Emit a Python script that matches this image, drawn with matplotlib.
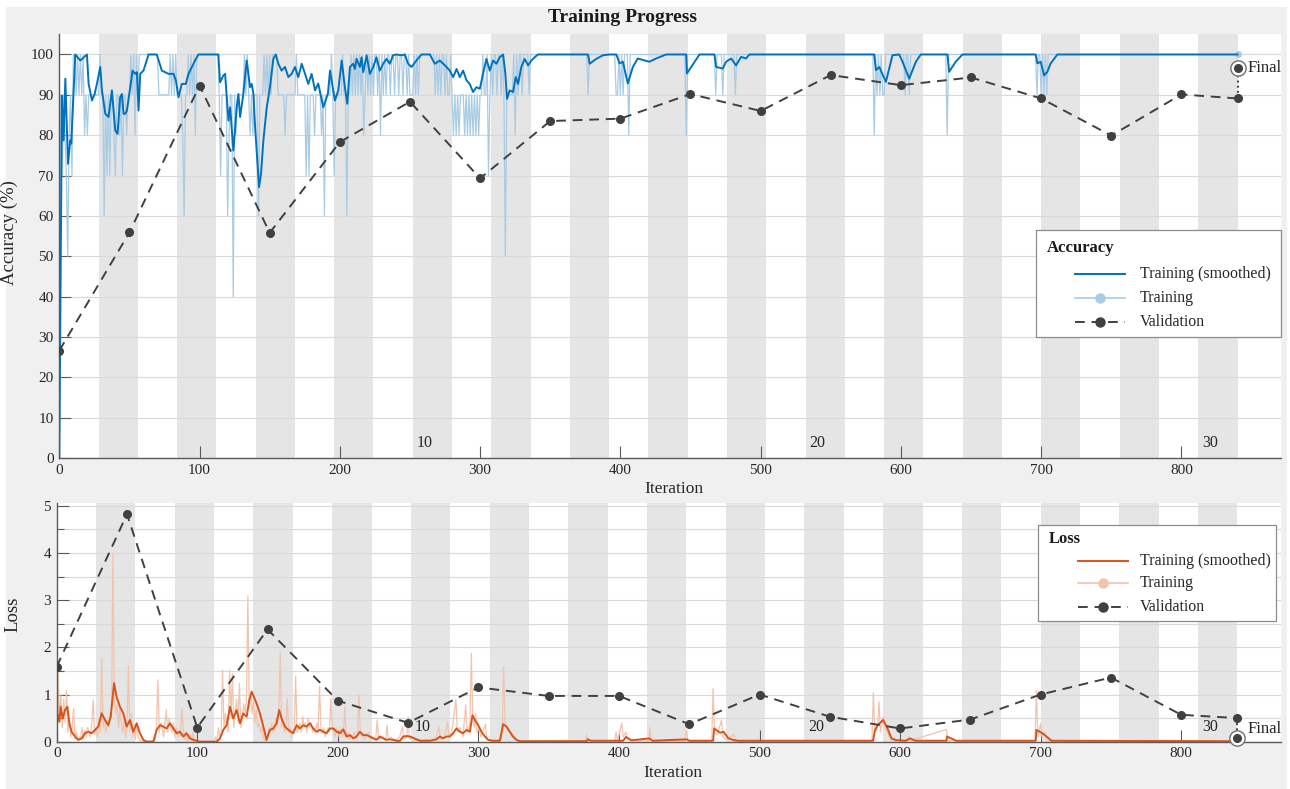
import numpy as np
import matplotlib
matplotlib.use("Agg")
import matplotlib.pyplot as plt
from matplotlib.lines import Line2D
from matplotlib.patches import Rectangle
from matplotlib.ticker import MultipleLocator

plt.rcParams['font.family'] = ['Liberation Serif', 'DejaVu Serif']

# ---------------- data ----------------
iters_per_epoch = 28
n_epochs = 30
n_iter = 840
epoch_labels = [10, 20, 30]
x_ticks = [0, 100, 200, 300, 400, 500, 600, 700, 800]

val_iters = [0, 50, 100, 150, 200, 250, 300, 350, 400, 450, 500, 550, 600, 650, 700, 750, 800, 840]
val_acc = [26.6, 55.9, 92.3, 55.8, 78.3, 88.3, 69.3, 83.5, 84.1, 90.2, 86.0, 94.9, 92.4, 94.3, 89.1, 79.9, 90.1, 89.1]
val_loss = [1.59, 4.82, 0.30, 2.38, 0.87, 0.40, 1.15, 0.97, 0.97, 0.37, 1.00, 0.53, 0.28, 0.47, 1.00, 1.36, 0.57, 0.50]
final_acc = 96.6
final_loss = 0.07

# raw training accuracy: 100 everywhere except these iterations
acc_raw_90 = [1, 3, 8, 12, 14, 16, 19, 21, 22, 23, 24, 25, 26, 27, 28, 30, 31, 33, 35, 37, 38, 41, 42,
              44, 46, 47, 49, 50, 52, 56, 71, 72, 73, 74, 75, 76, 77, 78, 80, 82, 84, 85, 86, 87, 90,
              91, 93, 95, 114, 116, 117, 118, 119, 122, 123, 125, 127, 128, 129, 130, 131, 133, 135,
              137, 139, 140, 141, 143, 144, 145, 147, 149, 151, 156, 157, 158, 159, 160, 162, 163,
              164, 165, 166, 167, 168, 170, 171, 172, 173, 174, 175, 177, 179, 180, 181, 183, 184,
              185, 186, 188, 190, 191, 192, 193, 195, 197, 198, 199, 200, 201, 203, 204, 206, 207,
              209, 211, 213, 215, 218, 220, 222, 224, 227, 231, 233, 236, 239, 242, 245, 248, 250,
              251, 252, 254, 256, 268, 270, 272, 275, 277, 278, 280, 282, 284, 286, 287, 288, 290,
              292, 294, 296, 298, 300, 301, 303, 304, 307, 309, 312, 315, 317, 319, 320, 321, 322,
              323, 327, 330, 335, 377, 397, 398, 400, 402, 468, 473, 482, 583, 585, 587, 588, 603,
              606, 697, 700, 702, 704]
acc_raw_80 = [4, 7, 18, 20, 39, 43, 48, 54, 88, 97, 121, 126, 136, 138, 161, 182, 187, 217, 229, 281,
              283, 285, 289, 291, 293, 295, 297, 299, 325, 406, 447, 581, 633]
acc_raw_70 = [2, 5, 9, 34, 36, 40, 45, 115, 176, 178, 196, 306]
acc_raw_60 = [32, 89, 120, 142, 189, 205]
acc_raw_50 = [6, 318]
acc_raw_40 = [124]
acc_raw_0 = [0]

# smoothed training accuracy (vertices)
acc_sm_it = [0, 1.9, 3.1, 4.3, 6.2, 7.8, 8.5, 11.4, 15, 19.7, 20.9, 23.3, 25.2, 26.8, 29.2, 30.4, 32.8,
             35.1, 37.5, 39.9, 41.5, 43.4, 44.6, 45.8, 47, 48.2, 50.6, 52.2, 54.1, 55.3, 56.5, 57.7, 60,
             61.2, 63.6, 69.5, 73.1, 77.8, 81.4, 83.1, 85, 87.3, 90.2, 92.1, 94.5, 96.8, 99.2, 113.4,
             114.6, 117, 118.2, 120.6, 121.8, 124.1, 126.5, 127.7, 128.9, 131.2, 133.6, 136, 137.2,
             138.4, 139.6, 140.7, 142.4, 143.8, 145.5, 147.9, 150.2, 152.6, 154.3, 156.2, 158.5, 160.9,
             163.3, 165.7, 168, 170.4, 172.8, 175.2, 177.5, 179.9, 182.3, 184.6, 188.2, 191.5, 193,
             196.5, 198.9, 201.3, 203.6, 205.3, 207.2, 209.5, 210.7, 211.9, 214.3, 215.5, 216.7, 219.1,
             221.4, 223.8, 226.1, 228.5, 230.9, 233.3, 235.6, 238, 240.4, 244, 246.3, 248.7, 251.1,
             254.6, 258.2, 264.2, 267.7, 271.3, 274.9, 278.4, 280.8, 283.2, 285.5, 287.9, 290.3, 292.6,
             295, 297.4, 299.8, 302.1, 304.5, 306.9, 309.3, 311.6, 314, 316.4, 318, 319.2, 321.1, 323.5,
             325.4, 327.1, 329.4, 331.8, 334.2, 336.6, 338.9, 341.3, 376.9, 378.1, 382.8, 387.6, 392.3,
             397.1, 399.4, 401.8, 405.3, 408.9, 412.4, 420.7, 425.5, 432.6, 446.9, 447.5, 456.4, 467.1,
             468.3, 473, 475.4, 479, 482.5, 486.1, 489.6, 492, 581, 582.2, 584.6, 589.3, 594, 598.8,
             601.2, 605.9, 610.7, 614.2, 633.2, 634.4, 639.1, 643.9, 696.1, 697.3, 699.7, 702.1, 704.4,
             706.8, 711.6, 840]
acc_sm_val = [0, 89.8, 78.7, 94, 72.9, 78.7, 77.9, 100, 98.5, 100, 92.7, 88.6, 90.2, 92.7, 96.9, 91.1, 85.3,
              84.5, 91.1, 81.2, 80.3, 89.4, 90.2, 85.3, 85.3, 86.1, 91.9, 96, 95.2, 95.6, 86.1, 95.2, 96,
              97.3, 100, 100, 96, 95.2, 95.2, 93.6, 89.4, 92.7, 92.7, 95.2, 96.9, 98.5, 100, 100,
              93.1, 94.8, 95.2, 83.6, 86.9, 76.2, 86.9, 90.2, 84.5, 90.2, 98.5, 91.9, 92.7,
              90.2, 82, 76.2, 67.1, 70.4, 78.7, 86.9, 91.9, 98.9, 100, 97.7, 96, 96.9,
              94.4, 95.2, 96.9, 94.4, 97.7, 95.2, 92.7, 95.2, 91.1, 92.8, 86.9, 90.3, 96,
              88.6, 91.1, 98.5, 91.9, 87.8, 96.9, 97.7, 96.4, 98.9, 96.9, 99.3, 95.6, 99.8,
              95.2, 96.9, 99.3, 96, 97.7, 98.9, 97.7, 99.8, 100, 99.8, 100, 97.7, 96.9,
              98.5, 100, 100, 97.7, 98.5, 97.3, 96, 94.4, 96.4, 94.4, 96, 93.6, 92.7,
              90.7, 91.9, 91.5, 95.2, 98.9, 96, 98.5, 97.7, 99.3, 100, 95.2, 89, 91.1, 90.7,
              94.4, 92.7, 96.9, 98.9, 97.3, 98.5, 99.3, 100, 100, 97.7, 98.9, 99.8, 100,
              100, 97.8, 98.2, 92.8, 96.9, 99, 98.2, 99, 100, 100, 95.3, 100, 100,
              96.9, 96.5, 98.2, 99, 97.3, 99.4, 99, 100, 100, 96.1, 96.9, 93.2, 99.8, 100,
              98.2, 94, 98.2, 100, 100, 95.7, 98.2, 100, 100, 97.8, 98.2, 94.8, 95.7,
              97.8, 100, 100]

# raw training loss (vertices)
loss_raw_it = [0, 1, 2, 3, 4, 5, 6, 7, 8, 9, 10, 11, 12, 13, 14, 15, 17, 18, 19, 20, 21, 22, 24, 25, 26,
               27, 28, 29, 30, 31, 32, 33, 34, 35, 36, 37, 38, 39, 40, 41, 42, 43, 44, 45, 46, 47, 48,
               49, 50, 51, 52, 53, 54, 55, 56, 57, 58, 59, 60, 70, 71, 72, 73, 74, 75, 76, 77, 78, 79,
               80, 81, 82, 83, 84, 85, 86, 87, 88, 89, 90, 91, 92, 93, 95, 96, 97, 98, 112, 113, 114,
               115, 116, 117, 118, 119, 120, 121, 122, 123, 124, 125, 126, 127, 128, 129, 130, 131,
               132, 133, 134, 135, 136, 137, 138, 139, 140, 141, 142, 143, 144, 145, 146, 147, 148,
               149, 150, 151, 152, 153, 154, 155, 156, 157, 158, 159, 160, 161, 162, 163, 164, 165,
               166, 167, 168, 169, 170, 171, 172, 173, 174, 175, 176, 177, 178, 179, 180, 181, 182,
               183, 184, 185, 186, 187, 188, 189, 190, 191, 192, 193, 194, 195, 196, 197, 198, 199,
               200, 201, 202, 203, 204, 205, 206, 207, 208, 209, 210, 212, 213, 214, 215, 216, 217,
               218, 219, 220, 222, 223, 225, 227, 228, 229, 230, 232, 234, 235, 236, 238, 240, 242,
               244, 246, 247, 249, 250, 251, 253, 255, 258, 260, 263, 266, 270, 272, 273, 276, 278,
               279, 281, 284, 285, 287, 289, 291, 292, 294, 295, 296, 297, 298, 299, 300, 302, 303,
               305, 306, 308, 312, 316, 317, 318, 319, 320, 322, 324, 326, 330, 376, 377, 378, 397,
               398, 399, 402, 403, 405, 406, 408, 421, 422, 423, 447, 448, 449, 466, 467, 468, 470,
               473, 474, 476, 482, 483, 580, 581, 582, 584, 585, 586, 588, 589, 591, 593, 595, 605,
               606, 607, 633, 634, 696, 697, 698, 700, 701, 703, 704, 706, 840]
loss_raw_val = [1.6, 1.45, 0.5, 1.0, 0.3, 0.9, 0.4, 1.09, 0.2, 0.5, 0.1, 0.3, 0.7, 0.05, 0.2, 0.02, 0.1,
                0.3, 0.05, 0.25, 0.1, 0.3, 0.1, 0.4, 0.88, 0.15, 0.3, 0.1, 0.5, 0.2, 1.77, 0.3, 0.5,
                0.2, 0.4, 0.3, 0.6, 0.5, 3.99, 0.9, 0.6, 0.8, 0.3, 0.74, 0.4, 0.2, 0.5, 0.1, 0.3, 1.6,
                0.2, 0.6, 0.1, 0.3, 0.05, 0.4, 0.1, 0.05, 0.01, 0.02, 0.3, 1.31, 0.2, 0.4, 0.3, 0.1,
                0.4, 0.67, 0.2, 0.5, 0.3, 0.2, 0.4, 0.1, 0.3, 0.1, 0.25, 0.1, 0.7, 0.3, 0.05, 0.2,
                0.02, 0.15, 0.02, 0.2, 0.01, 0.01, 0.1, 0.02, 0.3, 0.1, 0.2, 1.52, 0.3, 0.6, 0.4, 0.2,
                1.52, 0.5, 1.45, 0.3, 0.6, 0.9, 0.4, 1.24, 0.3, 0.5, 0.8, 0.6, 0.9, 3.09, 0.7, 1.0,
                0.6, 0.9, 0.4, 0.67, 0.3, 0.4, 0.2, 0.3, 0.1, 0.03, 0.01, 0.1, 0.3, 0.2, 0.4, 0.2,
                0.3, 0.5, 0.3, 0.6, 1.89, 0.3, 0.5, 0.2, 0.3, 0.92, 0.2, 0.3, 0.1, 0.2, 0.3, 1.39,
                0.2, 0.3, 0.4, 0.2, 0.53, 0.3, 0.4, 0.2, 0.5, 0.3, 0.4, 0.2, 0.3, 0.2, 0.4, 0.2,
                1.17, 0.3, 0.2, 0.3, 0.1, 0.2, 0.3, 0.2, 0.92, 0.3, 0.2, 0.1, 0.3, 0.2, 0.1, 0.3,
                0.1, 0.2, 0.74, 0.1, 0.2, 0.05, 0.15, 0.1, 0.2, 0.05, 0.1, 0.99, 0.2, 0.1, 0.15, 0.05,
                0.1, 0.2, 0.05, 0.1, 0.05, 0.46, 0.1, 0.05, 0.1, 0.02, 0.35, 0.05, 0.1, 0.02, 0.05,
                0.1, 0.32, 0.05, 0.1, 0.53, 0.05, 0.1, 0.02, 0.05, 0.02, 0.05, 0.02, 0.1, 0.32, 0.05,
                0.1, 0.42, 0.1, 0.2, 0.9, 0.2, 0.3, 0.1, 0.78, 0.2, 0.4, 1.87, 0.5, 0.3, 0.6, 0.2,
                0.3, 0.1, 0.2, 0.37, 0.05, 0.02, 0.01, 0.05, 0.2, 1.59, 0.4, 0.3, 0.2, 0.1, 0.05,
                0.01, 0.02, 0.14, 0.02, 0.02, 0.21, 0.02, 0.39, 0.1, 0.2, 0.05, 0.02, 0.02, 0.3, 0.02,
                0.02, 0.25, 0.02, 0.02, 1.13, 0.2, 0.15, 0.46, 0.1, 0.05, 0.15, 0.02, 0.02, 1.04, 0.2,
                0.3, 0.85, 0.2, 0.53, 0.3, 0.2, 0.05, 0.02, 0.02, 0.1, 0.02, 0.26, 0.02, 0.02, 1.09,
                0.1, 0.39, 0.1, 0.2, 0.05, 0.02, 0.01]

# smoothed training loss (vertices)
loss_sm_it = [0, 0.5, 1.9, 2.8, 4.2, 5.9, 7.6, 9, 10.6, 13, 15.4, 17.8, 20.1, 22.5, 24.9, 27.2, 29.6, 32,
              34.4, 36.7, 38.4, 40.8, 42.6, 45, 47.4, 49.8, 52.1, 54.5, 56.9, 59.2, 61.6, 64, 68.7,
              71.1, 73.5, 75.8, 78.2, 80.6, 83, 85.3, 87.7, 90.1, 92.4, 94.8, 97.2, 101.9, 113.8,
              116.2, 118.5, 120.9, 123.3, 125.6, 128, 130.4, 132.7, 135.1, 137, 138.7, 140.3, 142.2,
              144.6, 147, 149.3, 151.7, 154.1, 156.4, 158.3, 160, 162.4, 164.8, 168.3, 170.7, 173,
              175.4, 177.8, 180.2, 182.5, 184.9, 187.3, 189.6, 192, 194.4, 196.8, 199.1, 201.5, 203.9,
              206.2, 208.6, 211, 213.3, 215.7, 218.1, 220.5, 222.8, 225.2, 227.6, 229.9, 232.3, 234.7,
              237, 239.4, 241.8, 244.2, 246.5, 248.9, 251.3, 256, 258.4, 265.5, 270.2, 272.6, 275,
              277.3, 279.7, 282.1, 284.4, 286.8, 289.2, 291.6, 293.9, 295.8, 297.5, 299.9, 302.2,
              304.6, 307, 310.5, 315.3, 317.6, 320, 322.4, 324.7, 327.1, 329.5, 377, 377.9, 380, 403,
              405, 409, 421.5, 424, 448, 450, 467, 467.7, 472, 474.4, 477.9, 481.5, 485, 580.8, 582,
              584, 587.9, 590.5, 593.9, 597, 604, 607, 611, 633, 633.4, 640, 696.5, 697, 700.6, 703,
              707.7, 840]
loss_sm_val = [1.52, 0.6, 0.42, 0.74, 0.49, 0.67, 0.74, 0.39, 0.21, 0.11, 0.04, 0.07, 0.18, 0.21, 0.18,
               0.25, 0.32, 0.6, 0.46, 0.35, 0.53, 1.24, 0.95, 0.74, 0.6, 0.32, 0.46, 0.21, 0.39, 0.18,
               0.04, 0.0, 0.0, 0.25, 0.35, 0.32, 0.28, 0.39, 0.28, 0.18, 0.21, 0.11, 0.18, 0.07, 0.04,
               0.0, 0.0, 0.07, 0.25, 0.35, 0.74, 0.49, 0.67, 0.39, 0.6, 0.53, 0.88, 1.06, 0.95, 0.81,
               0.6, 0.32, 0.04, 0.25, 0.28, 0.39, 0.67, 0.49, 0.32, 0.25, 0.18, 0.35, 0.28, 0.35,
               0.32, 0.39, 0.28, 0.21, 0.25, 0.21, 0.18, 0.28, 0.28, 0.21, 0.18, 0.26, 0.11, 0.14,
               0.07, 0.11, 0.21, 0.14, 0.14, 0.11, 0.07, 0.04, 0.11, 0.07, 0.04, 0.05, 0.04, 0.02,
               0.02, 0.11, 0.12, 0.11, 0.05, 0.02, 0.02, 0.05, 0.11, 0.07, 0.11, 0.11, 0.18, 0.28,
               0.21, 0.18, 0.25, 0.21, 0.56, 0.46, 0.35, 0.21, 0.11, 0.04, 0.02, 0.02, 0.37, 0.32,
               0.21, 0.11, 0.04, 0.01, 0.01, 0.05, 0.02, 0.02, 0.1, 0.03, 0.07, 0.02, 0.05, 0.02,
               0.02, 0.28, 0.19, 0.21, 0.07, 0.035, 0.02, 0.02, 0.23, 0.35, 0.46, 0.32, 0.07, 0.035,
               0.02, 0.07, 0.02, 0.02, 0.11, 0.02, 0.02, 0.25, 0.19, 0.14, 0.02, 0.01]

# ---------------- style ----------------
W, H = 1290, 789
C_ACC = '#0072BD'
C_ACC_RAW = '#a9cbe4'
C_LOSS = '#D95319'
C_LOSS_RAW = '#f1c4ae'
C_VAL = '#404040'
C_BAND = '#e5e5e5'
C_GRID = '#d9d9d9'
C_AX = '#5a5a5a'

fig = plt.figure(figsize=(W / 100, H / 100), dpi=100, facecolor='white')
fig.add_artist(Rectangle((6 / W, 0), (1287 - 6) / W, 1 - 7 / H, transform=fig.transFigure,
                         facecolor='#f0f0f0', edgecolor='none', zorder=-10))

ax1 = fig.add_axes([59.3 / W, 1 - 458 / H, (1281 - 59.3) / W, (458 - 34.3) / H])
ax2 = fig.add_axes([56.7 / W, 1 - 741.7 / H, (1281 - 56.7) / W, (741.7 - 502.7) / H])

acc_raw = np.full(n_iter + 1, 100.0)
for v, its in [(90, acc_raw_90), (80, acc_raw_80), (70, acc_raw_70), (60, acc_raw_60),
               (50, acc_raw_50), (40, acc_raw_40), (0, acc_raw_0)]:
    acc_raw[its] = v
it_all = np.arange(n_iter + 1)


def style_axes(ax):
    ax.set_facecolor('white')
    ax.set_xlim(0, 871)
    for e in range(2, n_epochs + 1, 2):
        ax.axvspan((e - 1) * iters_per_epoch, e * iters_per_epoch, color=C_BAND, lw=0, zorder=0.2)
    for s in ['top', 'right']:
        ax.spines[s].set_visible(False)
    for s in ['left', 'bottom']:
        ax.spines[s].set_color(C_AX)
        ax.spines[s].set_linewidth(1.0)
        ax.spines[s].set_zorder(3)
    ax.set_xticks(x_ticks)
    ax.tick_params(axis='both', which='both', direction='in', color=C_AX, width=0.8,
                   labelsize=11, labelcolor='#262626', pad=4)
    ax.tick_params(axis='both', which='major', length=8.5)
    ax.tick_params(axis='y', which='minor', length=5)
    ax.set_axisbelow(True)
    for e in epoch_labels:
        ax.annotate(str(e), xy=((e - 1) * iters_per_epoch, 0), xycoords=('data', 'axes fraction'),
                    xytext=(3, 10.5), textcoords='offset points', ha='left', va='center',
                    fontsize=11.5, color='#262626', zorder=4)


style_axes(ax1)
style_axes(ax2)

# accuracy
ax1.set_ylim(0, 105)
ax1.set_yticks(np.arange(0, 101, 10))
ax1.yaxis.grid(True, color=C_GRID, lw=0.8)
ax1.plot(it_all, acc_raw, color=C_ACC_RAW, lw=0.9, zorder=2)
ax1.plot([it_all[-1]], [acc_raw[-1]], 'o', color=C_ACC_RAW, ms=4, zorder=2)
ax1.plot(acc_sm_it, acc_sm_val, color=C_ACC, lw=1.4, zorder=3)
ax1.plot(val_iters, val_acc, color=C_VAL, lw=1.4, ls=(0, (5, 3.5)), marker='o', ms=5.5, zorder=4)
ax1.plot([val_iters[-1]] * 2, [val_acc[-1], final_acc], ':', color=C_VAL, lw=1.4, zorder=4)
ax1.plot(val_iters[-1], final_acc, 'o', ms=11, mfc='white', mec='#707070', mew=1.0, zorder=5)
ax1.plot(val_iters[-1], final_acc, 'o', ms=5.5, color=C_VAL, zorder=6)
ax1.annotate('Final', xy=(val_iters[-1], final_acc), xytext=(7, 0), textcoords='offset points',
             ha='left', va='center', fontsize=12, color='#262626')
ax1.set_ylabel('Accuracy (%)', fontsize=13.5, color='#262626')
ax1.yaxis.set_label_coords((18 - 59.3) / (1281 - 59.3), (458 - 233) / 423.7)
ax1.set_xlabel('Iteration', fontsize=12.5, color='#262626')
ax1.xaxis.set_label_coords(0.5 + 4 / 1221.7, (458 - 489) / 423.7)
ax1.xaxis.label.set_va('center')

# loss
ax2.set_ylim(0, 5.064)
ax2.yaxis.set_major_locator(MultipleLocator(1))
ax2.yaxis.set_minor_locator(MultipleLocator(0.5))
ax2.yaxis.grid(True, which='both', color=C_GRID, lw=0.8)
ax2.plot(loss_raw_it, loss_raw_val, color=C_LOSS_RAW, lw=0.9, zorder=2)
ax2.plot(loss_sm_it, loss_sm_val, color=C_LOSS, lw=1.4, zorder=3)
ax2.plot(val_iters, val_loss, color=C_VAL, lw=1.4, ls=(0, (5, 3.5)), marker='o', ms=5.5, zorder=4)
ax2.plot([val_iters[-1]] * 2, [val_loss[-1], final_loss], ':', color=C_VAL, lw=1.4, zorder=4)
ax2.plot(val_iters[-1], final_loss, 'o', ms=11, mfc='white', mec='#707070', mew=1.0, zorder=5,
         clip_on=False)
ax2.plot(val_iters[-1], final_loss, 'o', ms=5.5, color=C_VAL, zorder=6, clip_on=False)
ax2.annotate('Final', xy=(val_iters[-1], final_loss), xytext=(7, 7), textcoords='offset points',
             ha='left', va='center', fontsize=12, color='#262626')
ax2.set_ylabel('Loss', fontsize=13.5, color='#262626')
ax2.yaxis.set_label_coords((21 - 56.7) / (1281 - 56.7), (741.7 - 614) / 239)
ax2.set_xlabel('Iteration', fontsize=12.5, color='#262626')
ax2.xaxis.set_label_coords(0.5 + 4 / 1224.3, (741.7 - 773) / 239)
ax2.xaxis.label.set_va('center')

fig.text(623 / W, 1 - 18 / H, 'Training Progress', ha='center', va='center', fontsize=14,
         fontweight='bold', color='#1a1a1a')


# ---------------- legends (drawn in figure pixel coordinates) ----------------
def fxy(x, y):
    return (x / W, 1 - y / H)


def legend_box(x0, y0, x1, y1, title, tx, ty, rows, hx0, hx1, lx):
    fig.add_artist(Rectangle(fxy(x0, y1), (x1 - x0) / W, (y1 - y0) / H, transform=fig.transFigure,
                             facecolor='white', edgecolor='#8c8c8c', lw=0.9, zorder=20))
    fig.text(*fxy(tx, ty), title, ha='left', va='center', fontsize=12, fontweight='bold',
             color='#1a1a1a', zorder=21)
    for (label, y, color, lw, ls, mk, mcol) in rows:
        (ax_, ay_), (bx_, by_) = fxy(hx0, y), fxy(hx1, y)
        fig.add_artist(Line2D([ax_, bx_], [ay_, by_], transform=fig.transFigure, color=color, lw=lw,
                              ls=ls, zorder=21))
        if mk:
            mx, my = fxy((hx0 + hx1) / 2, y)
            fig.add_artist(Line2D([mx], [my], transform=fig.transFigure, marker='o', ms=6.5, color=mcol,
                                  lw=0, zorder=22))
        fig.text(*fxy(lx, y), label, ha='left', va='center', fontsize=11.4, color='#262626', zorder=21)


legend_box(1036, 230, 1281, 337, 'Accuracy', 1047, 248,
           [('Training (smoothed)', 273.5, C_ACC, 1.4, '-', False, None),
            ('Training', 297.5, C_ACC_RAW, 1.2, '-', True, C_ACC_RAW),
            ('Validation', 322, C_VAL, 1.4, (0, (5, 3.5)), True, C_VAL)],
           1075, 1125, 1140)
legend_box(1038, 525, 1276, 621, 'Loss', 1049, 539,
           [('Training (smoothed)', 561, C_LOSS, 1.4, '-', False, None),
            ('Training', 583, C_LOSS_RAW, 1.2, '-', True, C_LOSS_RAW),
            ('Validation', 607, C_VAL, 1.4, (0, (5, 3.5)), True, C_VAL)],
           1078, 1128, 1140)

fig.savefig('out.png', dpi=100, facecolor=fig.get_facecolor())
